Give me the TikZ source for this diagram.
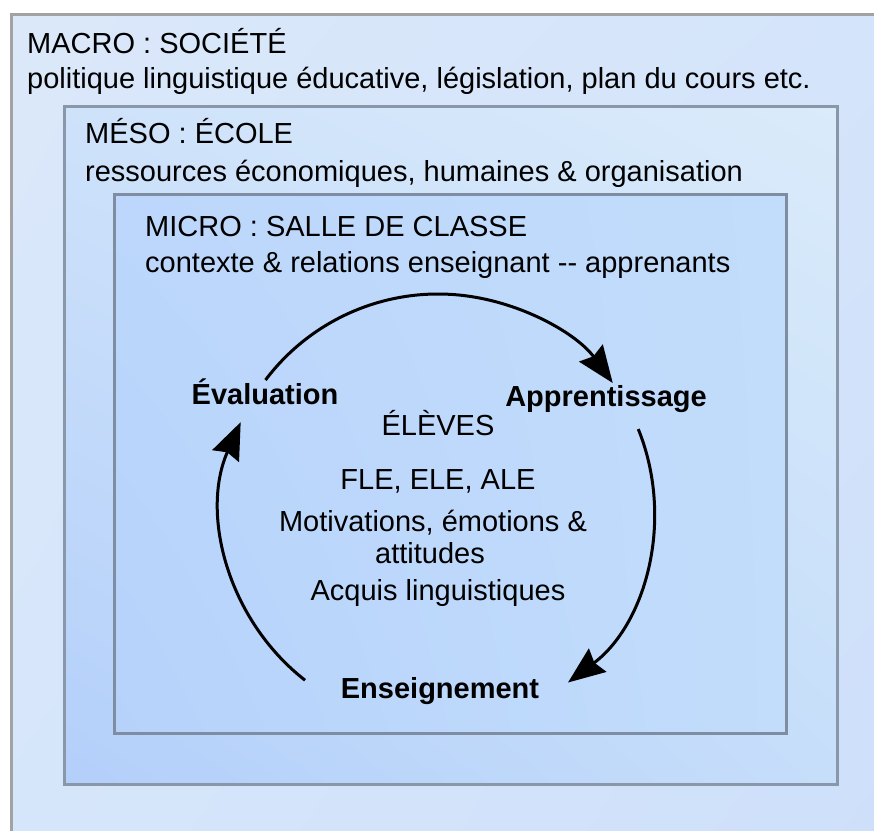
\documentclass[tikz,border=0pt]{standalone}
\usepackage{fontspec}
\setmainfont{Liberation Sans}
\usetikzlibrary{arrows.meta,calc,shadings}
\definecolor{outUL}{HTML}{DBE8FA}
\definecolor{outUR}{HTML}{D4E4FA}
\definecolor{outLL}{HTML}{D6E6FA}
\definecolor{outLR}{HTML}{CEDFFA}
\definecolor{midUL}{HTML}{CEE2FA}
\definecolor{midUR}{HTML}{DAEBFA}
\definecolor{midLL}{HTML}{B3CFFA}
\definecolor{midLR}{HTML}{C6DEFA}
\definecolor{innUL}{HTML}{BCD7FB}
\definecolor{innUR}{HTML}{C2DCFB}
\definecolor{innLL}{HTML}{B6D2FB}
\definecolor{innLR}{HTML}{C2DDFB}
\definecolor{outerline}{HTML}{A2A2A2}
\definecolor{midline}{HTML}{8A97A8}
\definecolor{innline}{HTML}{7E8DA2}
\tikzset{
  txt/.style={anchor=base west,inner sep=0pt,font=\fontsize{29}{32}\selectfont},
  ctr/.style={anchor=base,inner sep=0pt,font=\fontsize{29}{32}\selectfont},
  lbl/.style={anchor=base,inner sep=0pt,font=\fontsize{29}{32}\selectfont\bfseries},
  cyc/.style={line width=3pt,-{Stealth[length=37pt,width=29pt,inset=4pt]}},
}
\begin{document}
\begin{tikzpicture}[x=1pt,y=1pt]
\useasboundingbox (0,0) rectangle (874,-830);
\clip (0,0) rectangle (874,-830);
\fill[white] (0,0) rectangle (874,-830);
% outer box
\shade[upper left=outUL,upper right=outUR,lower left=outLL,lower right=outLR]
  (11,-14) rectangle (890,-850);
\draw[outerline,line width=3pt] (11,-850) -- (11,-14) -- (890,-14);
% middle box
\shade[upper left=midUL,upper right=midUR,lower left=midLL,lower right=midLR]
  (64,-106) rectangle (837,-784);
\draw[midline,line width=3pt] (64,-106) rectangle (837,-784);
% inner box
\shade[upper left=innUL,upper right=innUR,lower left=innLL,lower right=innLR]
  (114,-194) rectangle (786,-733);
\draw[innline,line width=3pt] (114,-194) rectangle (786,-733);
% texts
\node[txt] (macro) at (27,-53) {MACRO : SOCIÉTÉ};
\node[txt] (macrod) at (27,-88) {politique linguistique éducative, législation, plan du cours etc.};
\node[txt] (meso) at (85,-143) {MÉSO : ÉCOLE};
\node[txt] (mesod) at (85,-181) {ressources économiques, humaines \& organisation};
\node[txt] (micro) at (145,-236) {MICRO : SALLE DE CLASSE};
\node[txt] (microd) at (145,-272) {contexte \& relations enseignant {-}{-} apprenants};
\node[ctr] (eleves) at (438,-435) {ÉLÈVES};
\node[ctr] (fle) at (438,-489) {FLE, ELE, ALE};
\node[ctr] (motiv) at (433,-531) {Motivations, émotions \&};
\node[ctr] (attit) at (430,-563) {attitudes};
\node[ctr] (acquis) at (438,-600) {Acquis linguistiques};
\node[lbl] (eval) at (265,-404) {Évaluation};
\node[lbl] (appr) at (606,-406) {Apprentissage};
\node[lbl] (ens) at (440,-698) {Enseignement};
% cycle
\coordinate (c) at (438,-510);
\draw[cyc] ($(c)+(143:216)$) arc[start angle=143,end angle=36,radius=216];
\draw[cyc] ($(c)+(22:216)$) arc[start angle=22,end angle=-53,radius=216];
\draw[cyc] ($(c)+(232:216)$) arc[start angle=232,end angle=156,radius=216];
\end{tikzpicture}
\end{document}
